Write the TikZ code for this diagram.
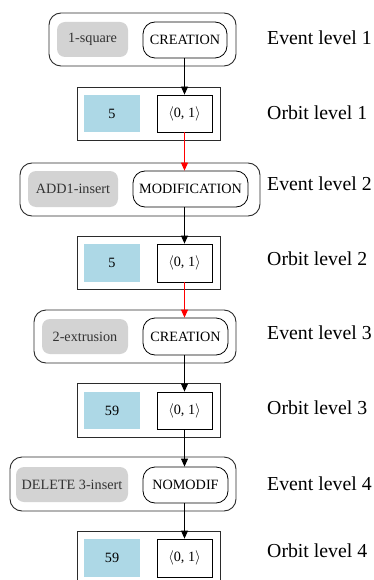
\documentclass[tikz,border=0pt]{standalone}
\usepackage{fontspec}
\setmainfont{Liberation Serif}
\usetikzlibrary{arrows.meta}
\definecolor{framecol}{HTML}{2B2B2B}
\definecolor{tagfill}{HTML}{D3D3D3}
\definecolor{orbfill}{HTML}{ADD8E6}
\tikzset{
  evbox/.style={draw=framecol, line width=0.9pt, rounded corners=12pt, inner sep=0pt},
  tagbox/.style={fill=tagfill, rounded corners=8pt, inner sep=0pt, text=black!80, font=\fontsize{14.2}{16}\selectfont},
  kindbox/.style={draw=black, line width=0.8pt, rounded corners=12pt, inner sep=0pt, font=\fontsize{14.2}{16}\selectfont},
  orbbox/.style={draw=framecol, line width=0.9pt, inner sep=0pt},
  dartbox/.style={fill=orbfill, inner sep=0pt, font=\fontsize{14.2}{16}\selectfont},
  pairbox/.style={draw=black, line width=0.8pt, inner sep=0pt, minimum width=55pt, minimum height=37pt, font=\fontsize{14.2}{16}\selectfont},
  lvl/.style={anchor=west, inner sep=0pt, font=\fontsize{19.8}{22}\selectfont},
  flow/.style={line width=0.8pt, -{Triangle[length=8pt,width=7pt]}},
  link/.style={flow, red},
}
\newcommand{\pairtext}{\ensuremath{\langle}0, 1\ensuremath{\rangle}}
\begin{document}
\begin{tikzpicture}[x=1pt, y=-1pt]
\useasboundingbox (0,0) rectangle (374,580);
\begin{scope}
\clip (0,0) rectangle (374,580);

% level 1
\node[evbox, minimum width=187pt, minimum height=53pt] (ev1) at (142.5,39.5) {};
\node[tagbox, minimum width=71pt, minimum height=35pt] (tag1) at (92.5,39.5) {1-square};
\node[kindbox, minimum width=84pt, minimum height=36pt] (kind1) at (185,40) {CREATION};
\node[orbbox, minimum width=143pt, minimum height=53pt] (orb1) at (148.5,113.5) {};
\node[dartbox, minimum width=56pt, minimum height=37pt] (dart1) at (112,113.5) {5};
\node[pairbox] (pair1) at (184.5,113.5) {\pairtext};

% level 2
\node[evbox, minimum width=240pt, minimum height=53pt] (ev2) at (140,189.5) {};
\node[tagbox, minimum width=90pt, minimum height=36pt] (tag2) at (73,189) {ADD1-insert};
\node[kindbox, minimum width=115pt, minimum height=36pt] (kind2) at (190.5,189) {MODIFICATION};
\node[orbbox, minimum width=143pt, minimum height=53pt] (orb2) at (148.5,262.5) {};
\node[dartbox, minimum width=56pt, minimum height=38pt] (dart2) at (112,263) {5};
\node[pairbox, minimum height=38pt] (pair2) at (184.5,263) {\pairtext};

% level 3
\node[evbox, minimum width=202pt, minimum height=53pt] (ev3) at (135,336.5) {};
\node[tagbox, minimum width=86pt, minimum height=35pt] (tag3) at (85,336.5) {2-extrusion};
\node[kindbox, minimum width=85pt, minimum height=37pt] (kind3) at (185.5,336.5) {CREATION};
\node[orbbox, minimum width=143pt, minimum height=54pt] (orb3) at (148.5,410) {};
\node[dartbox, minimum width=56pt, minimum height=37pt] (dart3) at (112,410.5) {59};
\node[pairbox] (pair3) at (184.5,410.5) {\pairtext};

% level 4
\node[evbox, minimum width=226pt, minimum height=54pt] (ev4) at (123,484) {};
\node[tagbox, minimum width=112pt, minimum height=35pt] (tag4) at (72,484.5) {DELETE 3-insert};
\node[kindbox, minimum width=85pt, minimum height=36pt] (kind4) at (185.5,485) {NOMODIF};
\node[orbbox, minimum width=143pt, minimum height=53pt] (orb4) at (148.5,557.5) {};
\node[dartbox, minimum width=56pt, minimum height=38pt] (dart4) at (112,558) {59};
\node[pairbox, minimum height=38pt] (pair4) at (184.5,558) {\pairtext};

% connectors
\draw[flow] (pair1.north |- kind1.south) -- (pair1.north);
\draw[link] (pair1.south) -- (pair1.south |- kind2.north);
\draw[flow] (pair2.north |- kind2.south) -- (pair2.north);
\draw[link] (pair2.south) -- (pair2.south |- kind3.north);
\draw[flow] (pair3.north |- kind3.south) -- (pair3.north);
\draw[flow] (pair3.south) -- (pair3.south |- kind4.north);
\draw[flow] (pair4.north |- kind4.south) -- (pair4.north);
\end{scope}

% level captions
\node[lvl] (c1) at (267,38) {Event level 1};
\node[lvl] (c2) at (267,113) {Orbit level 1};
\node[lvl] (c3) at (267,184) {Event level 2};
\node[lvl] (c4) at (267,259) {Orbit level 2};
\node[lvl] (c5) at (267,333) {Event level 3};
\node[lvl] (c6) at (267,408) {Orbit level 3};
\node[lvl] (c7) at (267,484) {Event level 4};
\node[lvl] (c8) at (267,551) {Orbit level 4};
\end{tikzpicture}
\end{document}
